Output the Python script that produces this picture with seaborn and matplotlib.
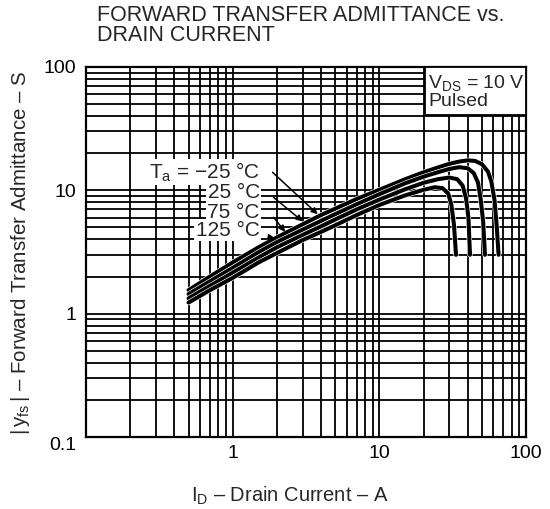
import pandas as pd
import matplotlib
matplotlib.use("Agg")
import matplotlib.pyplot as plt
import matplotlib.patheffects as pe
from matplotlib.patches import Rectangle
from matplotlib.ticker import LogLocator, NullFormatter
import seaborn as sns

# ---------------------------------------------------------------
# Data (ID in A, |yfs| in S)
# ---------------------------------------------------------------
id_m25 = [0.5, 0.7, 1, 1.5, 2, 3, 4, 5, 7, 10, 15, 20, 25, 30, 35, 40, 45, 50, 55, 58, 61, 63, 65]
yfs_m25 = [1.55, 2.0, 2.6, 3.45, 4.15, 5.3, 6.3, 7.1, 8.5, 10.1, 12.3, 14.0, 15.3, 16.4, 17.1, 17.5, 17.3, 16.3, 14.2, 11.8, 8.3, 5.3, 3.0]

id_25 = [0.5, 0.7, 1, 1.5, 2, 3, 4, 5, 7, 10, 15, 20, 25, 30, 35, 40, 44, 47, 49, 51, 52.5]
yfs_25 = [1.44, 1.83, 2.35, 3.15, 3.8, 4.8, 5.65, 6.4, 7.7, 9.3, 11.4, 12.9, 14.0, 14.9, 15.4, 15.1, 13.8, 11.6, 8.6, 5.6, 3.0]

id_75 = [0.5, 0.7, 1, 1.5, 2, 3, 4, 5, 7, 10, 15, 20, 25, 30, 34, 37, 39, 40.5, 41.5]
yfs_75 = [1.33, 1.68, 2.15, 2.85, 3.45, 4.35, 5.1, 5.8, 7.0, 8.4, 10.2, 11.5, 12.3, 12.7, 12.3, 10.9, 8.6, 6.0, 3.0]

id_125 = [0.5, 0.7, 1, 1.5, 2, 3, 4, 5, 7, 10, 15, 20, 24, 27, 29.5, 31, 32.3, 33.3]
yfs_125 = [1.23, 1.55, 1.95, 2.6, 3.1, 3.95, 4.6, 5.2, 6.3, 7.6, 9.1, 10.1, 10.6, 10.4, 9.4, 7.6, 5.2, 3.0]

temps = ["-25", "25", "75", "125"]
temp_labels = ["$\\mathregular{T_a}$ = \u221225 \u00b0C", "25 \u00b0C", "75 \u00b0C", "125 \u00b0C"]

x_ticks = [1, 10, 100]
x_tick_labels = ["1", "10", "100"]
y_ticks = [0.1, 1, 10, 100]
y_tick_labels = ["0.1", "1", "10", "100"]

curves = {
    "-25": (id_m25, yfs_m25),
    "25": (id_25, yfs_25),
    "75": (id_75, yfs_75),
    "125": (id_125, yfs_125),
}
rows = []
for t in temps:
    xs, ys = curves[t]
    for x, y in zip(xs, ys):
        rows.append({"temp": t, "id": x, "yfs": y})
df = pd.DataFrame(rows)

# ---------------------------------------------------------------
# Style
# ---------------------------------------------------------------
sns.set_style("white")
plt.rcParams["font.family"] = ["Liberation Sans", "DejaVu Sans"]
plt.rcParams["mathtext.fontset"] = "custom"
plt.rcParams["mathtext.rm"] = "Liberation Sans"
plt.rcParams["mathtext.it"] = "Liberation Sans"

fig = plt.figure(figsize=(5.5, 5.09), dpi=100)
ax = fig.add_axes([0.1564, 0.1415, 0.80, 0.7269])
ax.set_xscale("log")
ax.set_yscale("log")

sns.lineplot(data=df, x="id", y="yfs", hue="temp", hue_order=temps,
             palette=["black"] * 4, legend=False, sort=False,
             estimator=None, lw=2.9, ax=ax)
for line in ax.lines:
    line.set_path_effects([pe.Stroke(linewidth=3.8, foreground="white"), pe.Normal()])
    line.set_zorder(2.5)

ax.set_xlim(0.1, 100)
ax.set_ylim(0.1, 100)

# grid on every 1..9 line, all black like the datasheet
for axis in (ax.xaxis, ax.yaxis):
    axis.set_minor_locator(LogLocator(base=10, subs=range(2, 10)))
    axis.set_minor_formatter(NullFormatter())
ax.grid(True, which="both", color="black", lw=1.3)
ax.set_axisbelow(True)

ax.set_xticks(x_ticks)
ax.set_xticklabels(x_tick_labels)
ax.set_yticks(y_ticks)
ax.set_yticklabels(y_tick_labels)
ax.tick_params(which="both", length=0, labelsize=14, colors="black")
ax.tick_params(axis="x", pad=6)
ax.tick_params(axis="y", pad=7)
ax.get_yticklabels()[0].set_va("top")

for s in ax.spines.values():
    s.set_color("black")
    s.set_linewidth(1.6)

ax.set_xlabel("$\\mathregular{I_D}$ \u2013 Drain Current \u2013 A", fontsize=14.5)
ax.xaxis.set_label_coords(0.464, -0.13)
ax.set_ylabel("$\\mathregular{|\\,y_{fs}\\,|}$ \u2013 Forward Transfer Admittance \u2013 S", fontsize=14.8)
ax.yaxis.set_label_coords(-0.122, 0.497)

# ---------------------------------------------------------------
# Annotations
# ---------------------------------------------------------------
ax.add_patch(Rectangle((0.77, 0.87), 0.23, 0.13, transform=ax.transAxes,
                       fc="white", ec="black", lw=1.3, zorder=3))
ax.text(0.777, 0.957, "$\\mathregular{V_{DS}}$ = 10 V", transform=ax.transAxes,
        fontsize=14, va="center", ha="left", zorder=4)
ax.text(0.777, 0.906, "Pulsed", transform=ax.transAxes,
        fontsize=14, va="center", ha="left", zorder=4)

label_y = [14.0, 9.6, 6.6, 4.74]
arrow_from = [(1.87, 14.0), (1.9, 8.77), (1.9, 6.04), (1.76, 4.16)]
arrow_to = [(3.8, 6.4), (3.0, 5.6), (2.28, 4.6), (1.94, 4.1)]
for lbl, ly, a0, a1 in zip(temp_labels, label_y, arrow_from, arrow_to):
    ax.text(1.53, ly, lbl, ha="right", va="center", fontsize=15, zorder=4,
            bbox=dict(fc="white", ec="none", pad=1.0))
    ax.annotate("", xy=a1, xytext=a0, zorder=4,
                arrowprops=dict(arrowstyle="-|>", color="black", lw=1.1,
                                mutation_scale=9, shrinkA=0, shrinkB=0))

fig.text(97 / 550, 1 - 5 / 509, "FORWARD TRANSFER ADMITTANCE vs.\nDRAIN CURRENT",
         ha="left", va="top", fontsize=15.5, linespacing=0.95)

fig.savefig("out.png", dpi=100)
